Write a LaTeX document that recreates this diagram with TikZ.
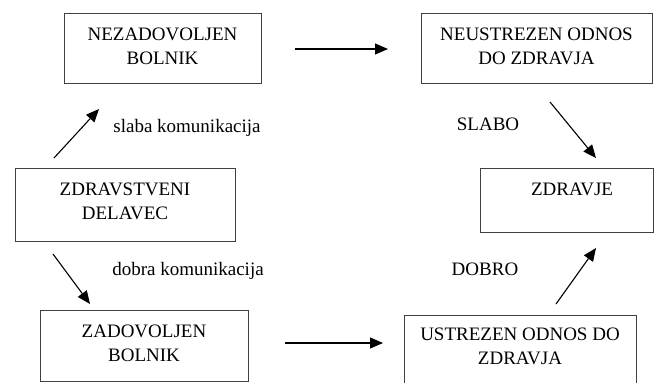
\documentclass[tikz,border=0pt]{standalone}
\usepackage{fontspec}
\setmainfont{Liberation Serif}
\usetikzlibrary{arrows.meta}
\begin{document}
\begin{tikzpicture}[x=1pt,y=-1pt,
  box/.style={draw=black!75, line width=1.3pt, inner sep=0pt, anchor=north west},
  txt/.style={font=\fontsize{19}{24}\selectfont, align=center, inner sep=0pt, anchor=north, text=black},
  lbl/.style={font=\fontsize{19}{24}\selectfont, inner sep=0pt, anchor=base, text=black},
  arr/.style={-{Triangle[length=13pt,width=11pt]}, line width=1.1pt, black}]
\useasboundingbox (0,0) rectangle (654,383);
\fill[white] (0,0) rectangle (654,383);
\clip (0,0) rectangle (654,383);

% boxes
\node[box, minimum width=197pt, minimum height=70pt] (nb) at (64,13) {};
\node[box, minimum width=231pt, minimum height=70pt] (nz) at (421,13) {};
\node[box, minimum width=220pt, minimum height=73pt] (zd) at (15,168) {};
\node[box, minimum width=173pt, minimum height=64pt] (zr) at (480,168) {};
\node[box, minimum width=208pt, minimum height=71pt] (zb) at (40,310) {};
\node[box, minimum width=232pt, minimum height=90pt] (uz) at (404,315) {};

% box texts
\node[txt] (tnb) at (162.5,27.5) {NEZADOVOLJEN\\BOLNIK};
\node[txt] (tnz) at (536.5,27.5) {NEUSTREZEN ODNOS\\DO ZDRAVJA};
\node[txt] (tzd) at (125,182.5) {ZDRAVSTVENI\\DELAVEC};
\node[txt] (tzr) at (572,182.5) {ZDRAVJE};
\node[txt] (tzb) at (144,324.5) {ZADOVOLJEN\\BOLNIK};
\node[txt] (tuz) at (520,327.5) {USTREZEN ODNOS DO\\ZDRAVJA};

% labels
\node[lbl] (ls) at (187,132) {slaba komunikacija};
\node[lbl] (ld) at (188,275) {dobra komunikacija};
\node[lbl] (lsl) at (488,130) {SLABO};
\node[lbl] (ldo) at (485,275) {DOBRO};

% arrow end points
\coordinate (a1s) at (295,49);  \coordinate (a1e) at (388,49);
\coordinate (a2s) at (285,343); \coordinate (a2e) at (383,343);
\coordinate (a3s) at (54,158);  \coordinate (a3e) at (99,109);
\coordinate (a4s) at (53,254);  \coordinate (a4e) at (90,304);
\coordinate (a5s) at (550,102); \coordinate (a5e) at (596,158);
\coordinate (a6s) at (556,304); \coordinate (a6e) at (596,248);

\draw[arr] (a1s) -- (a1e);
\draw[arr] (a2s) -- (a2e);
\draw[arr] (a3s) -- (a3e);
\draw[arr] (a4s) -- (a4e);
\draw[arr] (a5s) -- (a5e);
\draw[arr] (a6s) -- (a6e);
\end{tikzpicture}
\end{document}
